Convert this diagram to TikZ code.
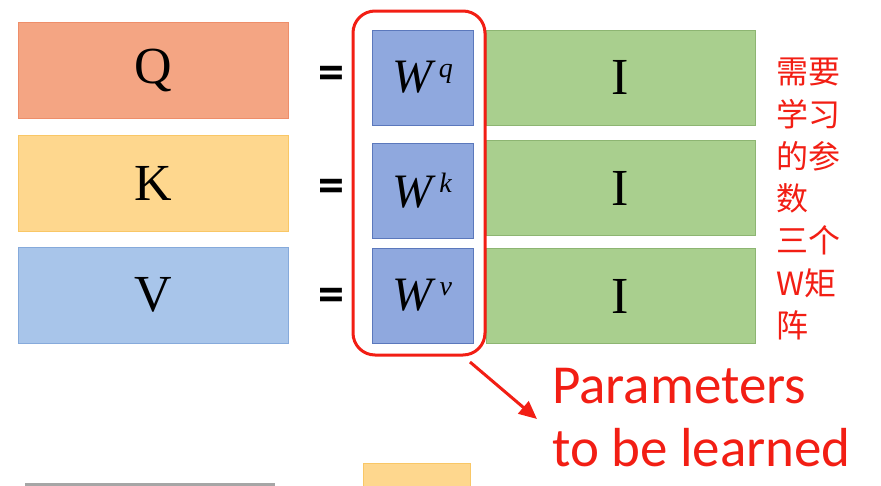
\documentclass[tikz,border=0pt]{standalone}
\usepackage{fontspec}
\setmainfont{Liberation Serif}
\setsansfont{Carlito}
\newfontfamily\cjkfont{Noto Sans CJK SC}
\usepackage{xcolor}
\usetikzlibrary{arrows.meta,positioning}
\definecolor{qfill}{HTML}{F4A583}
\definecolor{qline}{HTML}{EE8E6A}
\definecolor{kfill}{HTML}{FED78E}
\definecolor{kline}{HTML}{F9C766}
\definecolor{vfill}{HTML}{A8C5EA}
\definecolor{vline}{HTML}{86AADB}
\definecolor{wfill}{HTML}{8FA8DE}
\definecolor{wline}{HTML}{5B78BC}
\definecolor{ifill}{HTML}{A9CF8E}
\definecolor{iline}{HTML}{8DB572}
\definecolor{notered}{HTML}{F21E14}
\newcommand{\wmat}[1]{\textit{W}\kern3pt\raisebox{15pt}{\fontsize{28}{28}\selectfont\textit{#1}}}
\tikzset{
  vecbox/.style={minimum width=270pt,minimum height=96pt,inner sep=0pt,line width=1pt,
    font=\fontsize{52}{54}\selectfont},
  wbox/.style={draw=wline,fill=wfill,minimum width=101pt,minimum height=95pt,inner sep=0pt,
    line width=1pt,font=\fontsize{48}{50}\selectfont},
  ibox/.style={draw=iline,fill=ifill,minimum width=269pt,minimum height=95pt,inner sep=0pt,
    line width=1pt,font=\fontsize{52}{54}\selectfont},
  eqsign/.style={font=\sffamily\bfseries\fontsize{52}{52}\selectfont},
  cjkline/.style={anchor=west,text=notered,inner sep=0pt,font=\cjkfont\fontsize{32}{34}\selectfont},
}
\begin{document}
\begin{tikzpicture}[x=1pt,y=-1pt]
  \useasboundingbox (0,0) rectangle (881,485);
  % left column
  \node[vecbox,draw=qline,fill=qfill] (q) at (153,70) {Q};
  \node[vecbox,draw=kline,fill=kfill] (k) at (153,183) {K};
  \node[vecbox,draw=vline,fill=vfill] (v) at (153,295) {V};
  % equal signs
  \node[eqsign] (eqq) at (331,78) {=};
  \node[eqsign] (eqk) at (331,191) {=};
  \node[eqsign] (eqv) at (331,300) {=};
  % weight matrices
  \node[wbox] (wq) at (422.5,77.5) {\wmat{q}};
  \node[wbox] (wk) at (422.5,190.5) {\wmat{k}};
  \node[wbox] (wv) at (422.5,295.5) {\wmat{v}};
  % inputs
  \node[ibox] (iq) at (620.5,77.5) {I};
  \node[ibox] (ik) at (620.5,188) {I};
  \node[ibox] (iv) at (620.5,296) {I};
  % red frame round the W's
  \draw[notered,line width=3pt,rounded corners=22pt] (353,11) rectangle (485,355);
  \coordinate (fr) at (470,362);
  % note on the right
  \node[cjkline] (n1) at (776,72) {需要};
  \node[cjkline] (n2) at (776,114) {学习};
  \node[cjkline] (n3) at (776,156) {的参};
  \node[cjkline] (n4) at (776,198) {数};
  \node[cjkline] (n5) at (776,240) {三个};
  \node[cjkline] (n6) at (776,283) {W矩};
  \node[cjkline] (n7) at (776,325) {阵};
  % label
  \node[anchor=north west,text=notered,align=left,inner sep=0pt,
    font=\sffamily\fontsize{55}{63}\selectfont] (lbl) at (552,368) {Parameters\\to be learned};
  \draw[notered,line width=3pt,-{Triangle[length=18pt,width=16pt]}] (fr) -- (537,419);
  % bits of the next slide
  \draw[gray!70,line width=3pt] (25,484) -- (275,484);
  \node[fill=kfill,draw=kline,minimum width=107pt,minimum height=26pt,inner sep=0pt] (nx) at (417,476) {};
\end{tikzpicture}
\end{document}
